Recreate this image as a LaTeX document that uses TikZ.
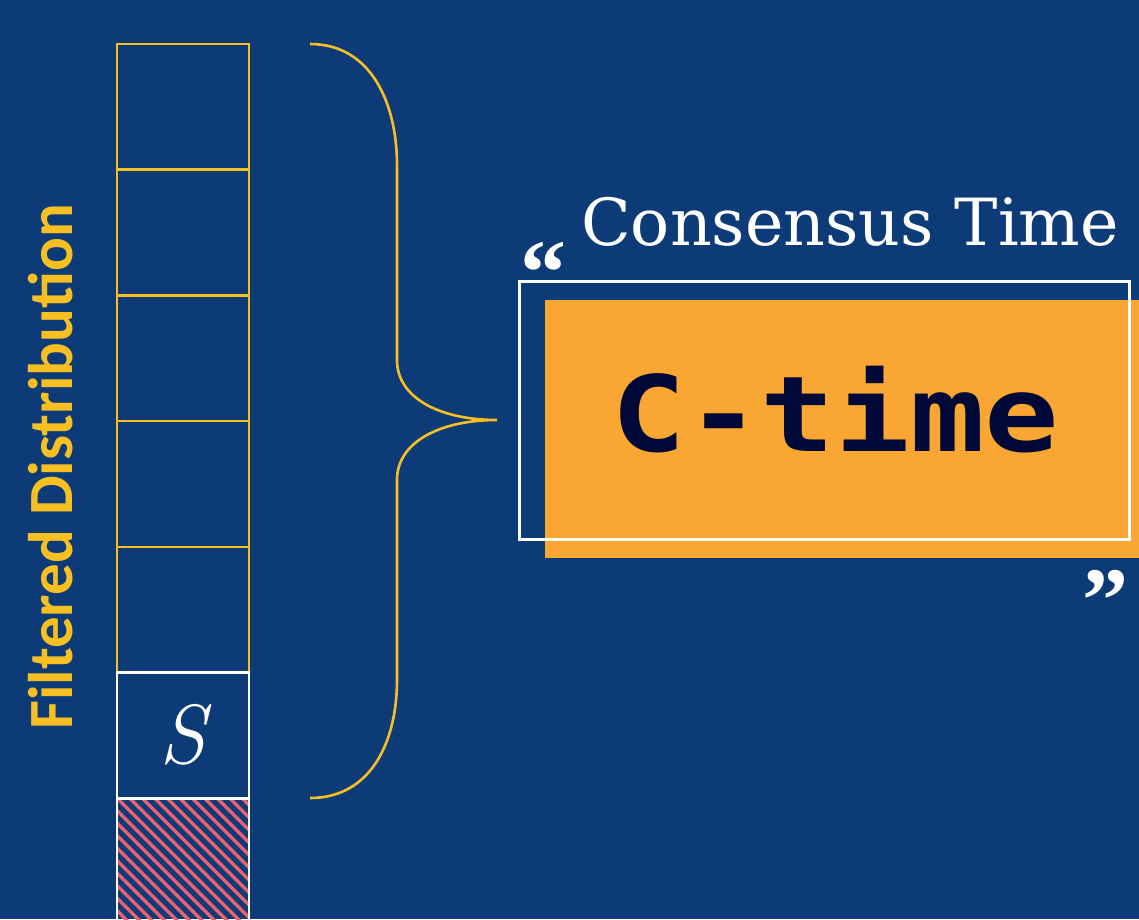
\documentclass[tikz,border=0pt]{standalone}
\usepackage{fontspec}
\newfontfamily\slabfont{DejaVu Serif}
\newfontfamily\stenfont{DejaVu Sans Mono}
\newfontfamily\labfont{Carlito}
\newfontfamily\quotefont{Liberation Serif}
\definecolor{bgblue}{RGB}{12,59,120}
\definecolor{gold}{RGB}{246,192,34}
\definecolor{orangefill}{RGB}{249,166,50}
\definecolor{navytext}{RGB}{0,8,56}
\definecolor{hatchred}{RGB}{236,96,112}
\tikzset{
  cell/.style={draw=gold, line width=2.4pt, minimum width=132pt, minimum height=126pt, inner sep=0pt, outer sep=0pt},
  whitecell/.style={cell, draw=white, line width=2.8pt},
  hatchline/.style={draw=hatchred, line width=3.4pt},
  bracestyle/.style={draw=gold, line width=2.6pt},
  quotemark/.style={text=white, inner sep=0pt, font={\quotefont\bfseries\fontsize{92}{92}\selectfont}},
}
\begin{document}
\begin{tikzpicture}[x=1pt,y=-1pt]
\fill[bgblue] (0,0) rectangle (1139,919);
\useasboundingbox (0,0) rectangle (1139,919);
\begin{scope}
\clip (0,0) rectangle (1139,919);
% column of cells
\node[cell] (c1) at (183,107) {};
\node[cell] (c2) at (183,232.5) {};
\node[cell] (c3) at (183,358) {};
\node[cell] (c4) at (183,484) {};
\node[cell] (c5) at (183,610) {};
% hatched cell
\begin{scope}
\clip (117,798) rectangle (249,935);
\foreach \i in {-14,...,12} \draw[hatchline] (117+\i*12.5,798) -- ++(160,160);
\end{scope}
\node[whitecell, minimum height=137pt] (c7) at (183,866.5) {};
\node[whitecell] (c6) at (183,735.5) {};
\node[text=white, font={\fontsize{84}{84}\selectfont\itshape}] (s) at (183,735) {S};
% brace
\draw[bracestyle] (310,44) .. controls (372,44) and (397,105) .. (397,165) -- (397,360)
  .. controls (397,398) and (440,420) .. (497,420)
  .. controls (440,420) and (397,442) .. (397,480) -- (397,680)
  .. controls (397,740) and (372,798) .. (310,798);
% label
\node[rotate=90, text=gold, font={\labfont\bfseries\fontsize{63}{63}\selectfont}] (lab) at (51,467) {Filtered Distribution};
% boxes
\fill[orangefill] (545,300) rectangle (1145,558);
\draw[white, line width=3pt] (519,281) rectangle (1129,539);
\node[anchor=base, inner sep=0pt, xscale=1.18, text=navytext, font={\stenfont\bfseries\fontsize{105}{105}\selectfont}] (ct) at (835.5,451) {C-time};
\node[anchor=base west, text=white, inner sep=0pt, font={\slabfont\fontsize{65}{65}\selectfont}] (title) at (581,245) {Consensus Time};
\node[quotemark, anchor=north] (q1) at (543,242) {“};
\node[quotemark, anchor=north] (q2) at (1105,570) {”};
\end{scope}
\end{tikzpicture}
\end{document}
